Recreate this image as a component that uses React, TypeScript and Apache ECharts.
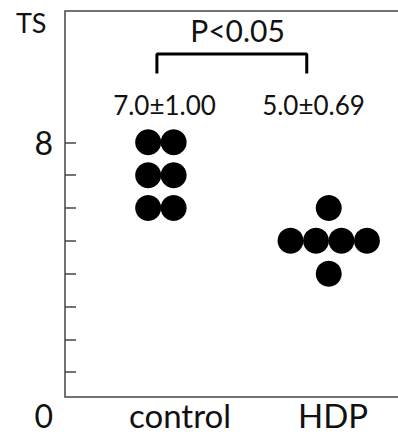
import React, { useEffect, useRef } from "react";
import * as echarts from "echarts";

// ---- data ----
const categories = ["control", "HDP"];
const controlValues = [8, 8, 7, 7, 6, 6];
const hdpValues = [6, 5, 5, 5, 5, 4];
const groupCenters = [2.88, 7.92]; // horizontal position of each group's dot column (x units)
const yTickValues = [1, 2, 3, 4, 5, 6, 7, 8];
const yLabelValues = [0, 8];
const meanSdLabels = ["7.0\u00B11.00", "5.0\u00B10.69"];
const pLabel = "P<0.05";
const yName = "TS";
const bracketEnds = [2.76, 7.26];
const bracketLevels = [10.1, 10.69];

const DOT_STEP = 0.765;
const FONT = "Lato, 'Open Sans', sans-serif";

// beeswarm layout: equal values are laid side by side, centered on group center
function swarm(values: number[], center: number): number[][] {
  const counts: Record<string, number> = {};
  values.forEach((v) => (counts[v] = (counts[v] || 0) + 1));
  const seen: Record<string, number> = {};
  return values.map((v) => {
    const n = counts[v];
    const i = seen[v] || 0;
    seen[v] = i + 1;
    const off = (i - (n - 1) / 2) * DOT_STEP;
    return [center + off, v];
  });
}

export default function App() {
  const ref = useRef<HTMLDivElement>(null);
  useEffect(() => {
    if (!ref.current) return;
    const chart = echarts.init(ref.current, null, { renderer: "svg" });
    const textColor = "#111";
    chart.setOption({
      animation: false,
      backgroundColor: "#fff",
      textStyle: { fontFamily: FONT },
      grid: [
        // frame
        { left: 65, right: -6, top: 11, bottom: 37, show: true, borderColor: "#444", borderWidth: 1.5, backgroundColor: "transparent", outerBoundsMode: "none" },
        // data
        { left: 65, right: 0, top: 11, bottom: 29, outerBoundsMode: "none" },
        // category labels
        { left: 103.5, right: -11.5, top: 11, bottom: 37, outerBoundsMode: "none" },
      ],
      xAxis: [
        { gridIndex: 0, type: "value", show: false },
        { gridIndex: 1, type: "value", min: 0, max: 10, show: false },
        {
          gridIndex: 2,
          type: "category",
          data: categories,
          axisLine: { show: false },
          axisTick: { show: false },
          axisLabel: { fontSize: 33, lineHeight: 32, color: textColor, margin: 2, fontFamily: FONT },
        },
      ],
      yAxis: [
        { gridIndex: 0, type: "value", show: false },
        {
          gridIndex: 1,
          type: "value",
          min: 0,
          max: 12,
          axisLine: { show: false },
          splitLine: { show: false },
          axisTick: {
            show: true,
            inside: true,
            length: 11,
            customValues: yTickValues,
            lineStyle: { color: "#444", width: 1.5 },
          },
          axisLabel: {
            customValues: yLabelValues,
            margin: 12,
            fontSize: 32,
            color: textColor,
            fontFamily: FONT,
            formatter: (v: number) => (v === 0 ? "{z|0}" : "{a|" + v + "}"),
            rich: {
              z: { fontSize: 32, lineHeight: 32, color: textColor, fontFamily: FONT, padding: [20, 0, 0, 0] },
              a: { fontSize: 32, color: textColor, fontFamily: FONT },
            },
          },
        },
        { gridIndex: 2, type: "value", show: false },
      ],
      series: [
        {
          type: "scatter",
          name: categories[0],
          xAxisIndex: 1,
          yAxisIndex: 1,
          symbol: "circle",
          symbolSize: 26,
          itemStyle: { color: "#000", opacity: 1 },
          data: swarm(controlValues, groupCenters[0]),
        },
        {
          type: "scatter",
          name: categories[1],
          xAxisIndex: 1,
          yAxisIndex: 1,
          symbol: "circle",
          symbolSize: 26,
          itemStyle: { color: "#000", opacity: 1 },
          data: swarm(hdpValues, groupCenters[1]),
        },
        {
          type: "line",
          name: "bracket",
          xAxisIndex: 1,
          yAxisIndex: 1,
          symbol: "none",
          lineStyle: { color: "#000", width: 3 },
          data: [
            [bracketEnds[0], bracketLevels[0]],
            [bracketEnds[0], bracketLevels[1]],
            [bracketEnds[1], bracketLevels[1]],
            [bracketEnds[1], bracketLevels[0]],
          ],
        },
      ],
      graphic: [
        { type: "text", left: 16, top: 9, style: { text: yName, fontSize: 27, fill: textColor, fontFamily: FONT } },
        { type: "text", x: 237.5, y: 30, style: { text: pLabel, fontSize: 30, fill: textColor, fontFamily: FONT, align: "center", verticalAlign: "middle" } },
        { type: "text", x: 164.5, y: 105, style: { text: meanSdLabels[0], fontSize: 26, fill: textColor, fontFamily: FONT, align: "center", verticalAlign: "middle" } },
        { type: "text", x: 313.5, y: 105, style: { text: meanSdLabels[1], fontSize: 26, fill: textColor, fontFamily: FONT, align: "center", verticalAlign: "middle" } },
      ],
    });
    return () => chart.dispose();
  }, []);
  return <div ref={ref} style={{ position: "fixed", left: 0, top: 0, width: 398, height: 434 }} />;
}
